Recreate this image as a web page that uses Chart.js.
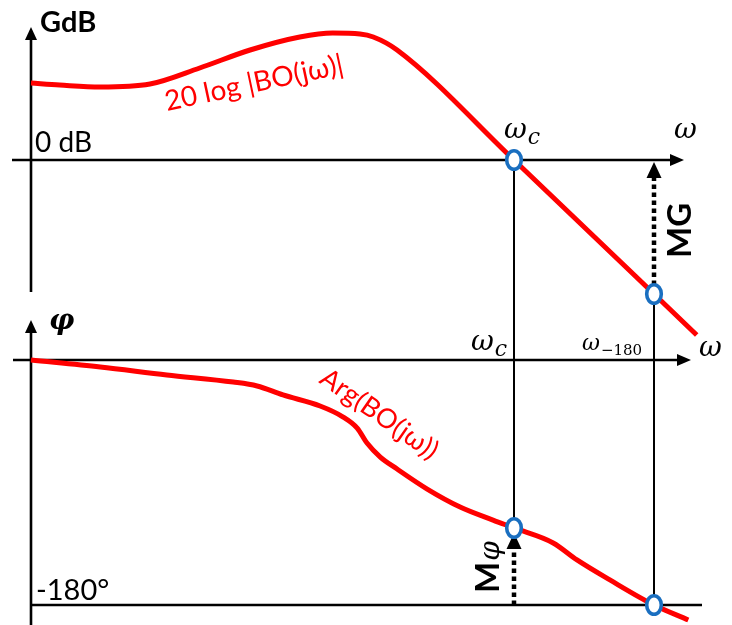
<!DOCTYPE html>
<html>
<head>
<meta charset="utf-8">
<script src="https://cdn.jsdelivr.net/npm/chart.js@4.4.1/dist/chart.umd.min.js"></script>
<style>
  html, body { margin: 0; padding: 0; background: #fff; }
  #wrap { width: 732px; height: 625px; position: relative; }
</style>
</head>
<body>
<div id="wrap"><canvas id="bode"></canvas></div>
<script>
// omega en unités arbitraires (axe linéaire schématique)
const omegaGain = [0, 4.1, 9.9, 17, 24.1, 31.3, 38.4, 43.1, 47, 48.9, 52.3, 69, 95.1];
const gainDb    = [15.4, 15, 14.6, 15.2, 18.4, 22, 24.6, 25.4, 25.2, 24.6, 22, 0, -35];

const omegaPhase = [0, 9.9, 19.4, 28.9, 32.3, 36, 41.3, 44.6, 46.6, 48, 49.9, 52.3, 56.6, 61.3, 66, 69, 74.6, 78, 82.7, 89, 93.9];
const phaseDeg   = [0, -5.1, -11, -16.2, -19.1, -25.7, -33.8, -41.9, -50, -61, -71.3, -80.1, -94.8, -108, -117.6, -123.4, -134.4, -146.9, -161.6, -180, -191];

const omegaC = 69;        // pulsation de coupure
const omega180 = 89;      // pulsation à -180°
const gainAt180 = -26.8;  // gain à omega180 (MG)
const phaseAtC = -123.4;  // phase à omegaC (Mphi)
const phaseLimit = -180;

const RED = '#ff0000';
const BLUE = '#1a6fc0';

function pts(xs, ys) {
  return xs.map((v, i) => ({ x: v, y: ys[i] }));
}

// marqueur ovale (cercle bleu un peu étiré)
const oval = document.createElement('canvas');
oval.width = 24;
oval.height = 28;
(function() {
  const c = oval.getContext('2d');
  c.beginPath();
  c.ellipse(12, 14, 7.3, 9.3, 0, 0, Math.PI * 2);
  c.fillStyle = '#fff';
  c.fill();
  c.lineWidth = 3.6;
  c.strokeStyle = BLUE;
  c.stroke();
})();

// petites fonctions de dessin
function seg(ctx, x1, y1, x2, y2) {
  ctx.beginPath();
  ctx.moveTo(x1, y1);
  ctx.lineTo(x2, y2);
  ctx.stroke();
}
function head(ctx, tx, ty, dir, len, half) {
  ctx.beginPath();
  if (dir === 'up') {
    ctx.moveTo(tx, ty);
    ctx.lineTo(tx - half, ty + len);
    ctx.lineTo(tx + half, ty + len);
  } else {
    ctx.moveTo(tx, ty);
    ctx.lineTo(tx - len, ty - half);
    ctx.lineTo(tx - len, ty + half);
  }
  ctx.closePath();
  ctx.fill();
}
function label(ctx, str, x, y, font, color, angle) {
  ctx.save();
  ctx.translate(x, y);
  if (angle) ctx.rotate(angle * Math.PI / 180);
  ctx.font = font;
  ctx.fillStyle = color;
  ctx.textAlign = 'left';
  ctx.textBaseline = 'alphabetic';
  ctx.fillText(str, 0, 0);
  ctx.restore();
}
function omegaSub(ctx, sub, x, y, size, subSize) {
  ctx.save();
  ctx.fillStyle = '#000';
  ctx.textBaseline = 'alphabetic';
  ctx.font = 'italic ' + size + 'px "DejaVu Serif"';
  ctx.fillText('ω', x, y);
  const w = ctx.measureText('ω').width;
  if (sub) {
    ctx.font = (sub === 'c' ? 'italic ' : '') + subSize + 'px "DejaVu Serif"';
    ctx.fillText(sub, x + w + 1, y + size * 0.22);
  }
  ctx.restore();
}

const diagram = {
  id: 'diagram',
  beforeDatasetsDraw(chart) {
    const { ctx, scales: { x, yG, yP } } = chart;
    const x0 = x.getPixelForValue(0);
    const g0 = yG.getPixelForValue(0);
    const p0 = yP.getPixelForValue(0);
    const p180 = yP.getPixelForValue(phaseLimit);
    const xc = x.getPixelForValue(omegaC);
    const x18 = x.getPixelForValue(omega180);
    const gMG = yG.getPixelForValue(gainAt180);
    const pM = yP.getPixelForValue(phaseAtC);

    ctx.save();
    ctx.strokeStyle = '#000';
    ctx.fillStyle = '#000';
    ctx.lineWidth = 2.6;

    // axes du gain
    seg(ctx, x0, 292, x0, 38);
    head(ctx, x0, 27, 'up', 13, 6);
    seg(ctx, 12, g0, 672, g0);
    head(ctx, 684, g0, 'right', 14, 6);

    // axes de la phase
    seg(ctx, x0, 625, x0, 332);
    head(ctx, x0, 320, 'up', 13, 6);
    seg(ctx, 13, p0, 678, p0);
    head(ctx, 691, p0, 'right', 14, 6);
    seg(ctx, x0, p180, 702, p180);

    // verticales omega_c et omega_-180
    ctx.lineWidth = 2;
    seg(ctx, xc, g0, xc, pM);
    seg(ctx, x18, gMG, x18, p180);

    // flèches pointillées MG et Mphi
    ctx.lineWidth = 4.5;
    ctx.setLineDash([4.5, 3.5]);
    seg(ctx, x18, gMG - 9, x18, g0 + 14);
    seg(ctx, xc, p180, xc, pM + 18);
    ctx.setLineDash([]);
    head(ctx, x18, g0 + 2, 'up', 16, 7.5);
    head(ctx, xc, pM + 5, 'up', 16, 7.5);
    ctx.restore();
  },
  afterDraw(chart) {
    const { ctx, scales: { x } } = chart;
    const xc = x.getPixelForValue(omegaC);
    const x18 = x.getPixelForValue(omega180);

    label(ctx, 'GdB', 40, 32, 'bold 29px Lato', '#000');
    label(ctx, '0 dB', 35, 152, '28px Lato', '#000');
    label(ctx, '-180°', 36, 600, '29px Lato', '#000');
    label(ctx, 'φ', 49, 329, 'bold italic 28px "DejaVu Serif"', '#000');

    label(ctx, '20 log |BO(jω)|', 167, 111, '28px Lato', RED, -12);
    label(ctx, 'Arg(BO(jω))', 318, 382, '27px Lato', RED, 35);

    omegaSub(ctx, 'c', xc - 10, 138, 28, 22);
    omegaSub(ctx, null, 674, 138, 28);
    omegaSub(ctx, 'c', xc - 43, 350, 28, 22);
    omegaSub(ctx, '−180', x18 - 72, 350, 22, 15);
    omegaSub(ctx, null, 699, 356, 28);

    // MG et Mphi verticaux
    label(ctx, 'MG', x18 + 37, 258, 'bold 33px Lato', '#000', -90);
    ctx.save();
    ctx.translate(xc - 15, 593);
    ctx.rotate(-Math.PI / 2);
    ctx.fillStyle = '#000';
    ctx.font = 'bold 33px Lato';
    ctx.fillText('M', 0, 0);
    const mw = ctx.measureText('M').width;
    ctx.font = 'italic 28px "DejaVu Serif"';
    ctx.fillText('φ', mw + 1, 0);
    ctx.restore();
  }
};

const markerStyle = {
  type: 'scatter',
  pointStyle: oval,
  pointRadius: 10,
  pointHoverRadius: 10,
  showLine: false,
  order: 0
};

new Chart(document.getElementById('bode'), {
  type: 'line',
  data: {
    datasets: [
      Object.assign({
        data: [{ x: omegaC, y: 0 }, { x: omega180, y: gainAt180 }],
        yAxisID: 'yG'
      }, markerStyle),
      Object.assign({
        data: [{ x: omegaC, y: phaseAtC }, { x: omega180, y: phaseLimit }],
        yAxisID: 'yP'
      }, markerStyle),
      {
        data: pts(omegaGain, gainDb),
        yAxisID: 'yG',
        borderColor: RED,
        borderWidth: 5,
        pointRadius: 0,
        cubicInterpolationMode: 'monotone',
        fill: false,
        order: 1
      },
      {
        data: pts(omegaPhase, phaseDeg),
        yAxisID: 'yP',
        borderColor: RED,
        borderWidth: 5,
        pointRadius: 0,
        cubicInterpolationMode: 'monotone',
        fill: false,
        order: 1
      }
    ]
  },
  options: {
    responsive: true,
    maintainAspectRatio: false,
    animation: false,
    layout: { padding: 0, autoPadding: false },
    plugins: {
      legend: { display: false },
      tooltip: { enabled: false }
    },
    scales: {
      // 7 px par unité, omega = 0 à x = 31
      x: { type: 'linear', min: -31 / 7, max: 701 / 7, display: false },
      // 5 px par dB, 0 dB à y = 160
      yG: { type: 'linear', position: 'left', min: -93, max: 32, display: false },
      // 245 px pour 180°, 0° à y = 360
      yP: { type: 'linear', position: 'right', min: -265 * 180 / 245, max: 360 * 180 / 245, display: false }
    }
  },
  plugins: [diagram]
});
</script>
</body>
</html>
